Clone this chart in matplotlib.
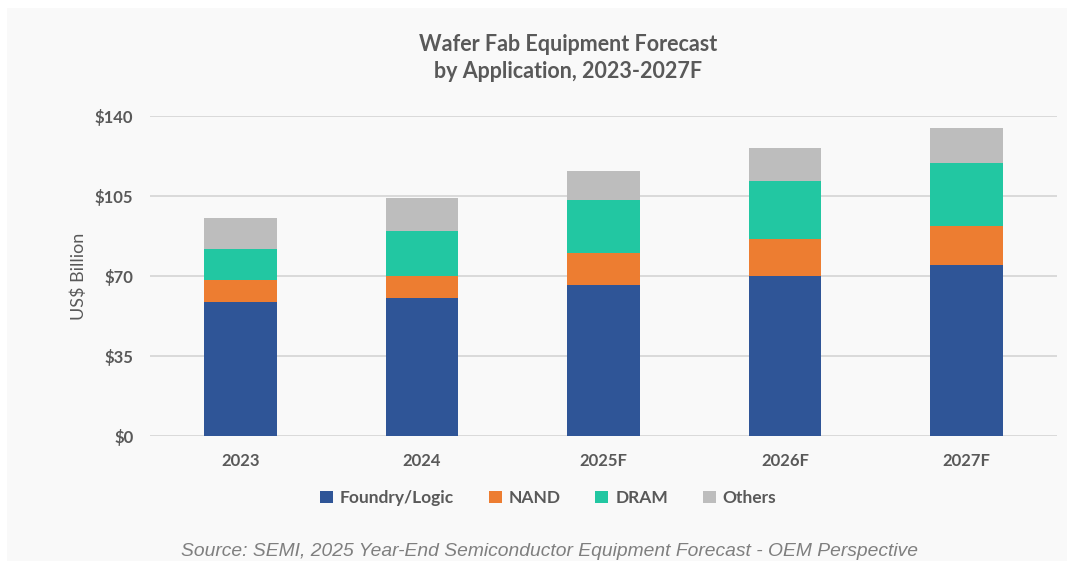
import matplotlib.pyplot as plt
import numpy as np
from matplotlib.patches import Rectangle

# Datos (US$ miles de millones)
years = ['2023', '2024', '2025F', '2026F', '2027F']
foundry = [58.6, 60.4, 66.1, 70.1, 74.8]
nand = [9.6, 9.6, 14.0, 16.0, 16.9]
dram = [13.6, 19.7, 23.2, 25.5, 27.7]
others = [13.6, 14.4, 12.7, 14.3, 15.3]
series_names = ['Foundry/Logic', 'NAND', 'DRAM', 'Others']
y_ticks = [0, 35, 70, 105, 140]

colors = ['#2F5597', '#ED7D31', '#22C7A2', '#BDBDBD']
grey_text = '#595959'

fig = plt.figure(figsize=(10.67, 5.61), dpi=100, facecolor='white')
# fondo gris muy claro del recuadro del grafico
fig.patches.append(Rectangle((7 / 1067, 0), 1 - 7 / 1067, 1 - 8 / 561,
                             transform=fig.transFigure, facecolor='#f9f9f9',
                             edgecolor='none', zorder=-10))

ax = fig.add_axes([150 / 1067, 1 - 436 / 561, 907 / 1067, 320 / 561])
ax.set_facecolor('none')

x = np.arange(len(years))
bottom = np.zeros(len(years))
for vals, name, col in zip([foundry, nand, dram, others], series_names, colors):
    ax.bar(x, vals, width=0.4, bottom=bottom, color=col, label=name, zorder=3)
    bottom = bottom + np.array(vals)

ax.set_xlim(-0.5, 4.5)
ax.set_ylim(0, 140)
ax.set_yticks(y_ticks)
ax.set_yticklabels(['$' + str(v) for v in y_ticks])
ax.set_xticks(x)
ax.set_xticklabels(years)
ax.grid(axis='y', color='#d4d4d4', linewidth=1.2, zorder=0)
for s in ax.spines.values():
    s.set_visible(False)
ax.tick_params(length=0, labelsize=12, labelcolor=grey_text, pad=12)
ax.tick_params(axis='y', pad=12)
for lab in ax.get_xticklabels() + ax.get_yticklabels():
    lab.set_fontweight('bold')
    lab.set_fontfamily('Lato')

ax.set_ylabel('US$ Billion', fontsize=13, color=grey_text, family='Lato', labelpad=6)

fig.text(568 / 1067, 1 - 58 / 561, 'Wafer Fab Equipment Forecast\nby Application, 2023-2027F',
         ha='center', va='center', fontsize=15.5, fontweight='bold', color=grey_text,
         family='Lato', linespacing=1.4)

leg = fig.legend(loc='center', bbox_to_anchor=(548 / 1067, 1 - 498 / 561), ncol=4,
                 frameon=False, handlelength=0.75, handleheight=0.75, handletextpad=0.4,
                 columnspacing=2.0, prop={'family': 'Lato', 'weight': 'bold', 'size': 12.5})
for t in leg.get_texts():
    t.set_color(grey_text)

fig.text(550 / 1067, 1 - 551 / 561,
         'Source: SEMI, 2025 Year-End Semiconductor Equipment Forecast - OEM Perspective',
         ha='center', va='center', fontsize=13.9, style='italic', color='#7f7f7f',
         family='Liberation Sans')

fig.savefig('out.png', dpi=100, facecolor=fig.get_facecolor())
